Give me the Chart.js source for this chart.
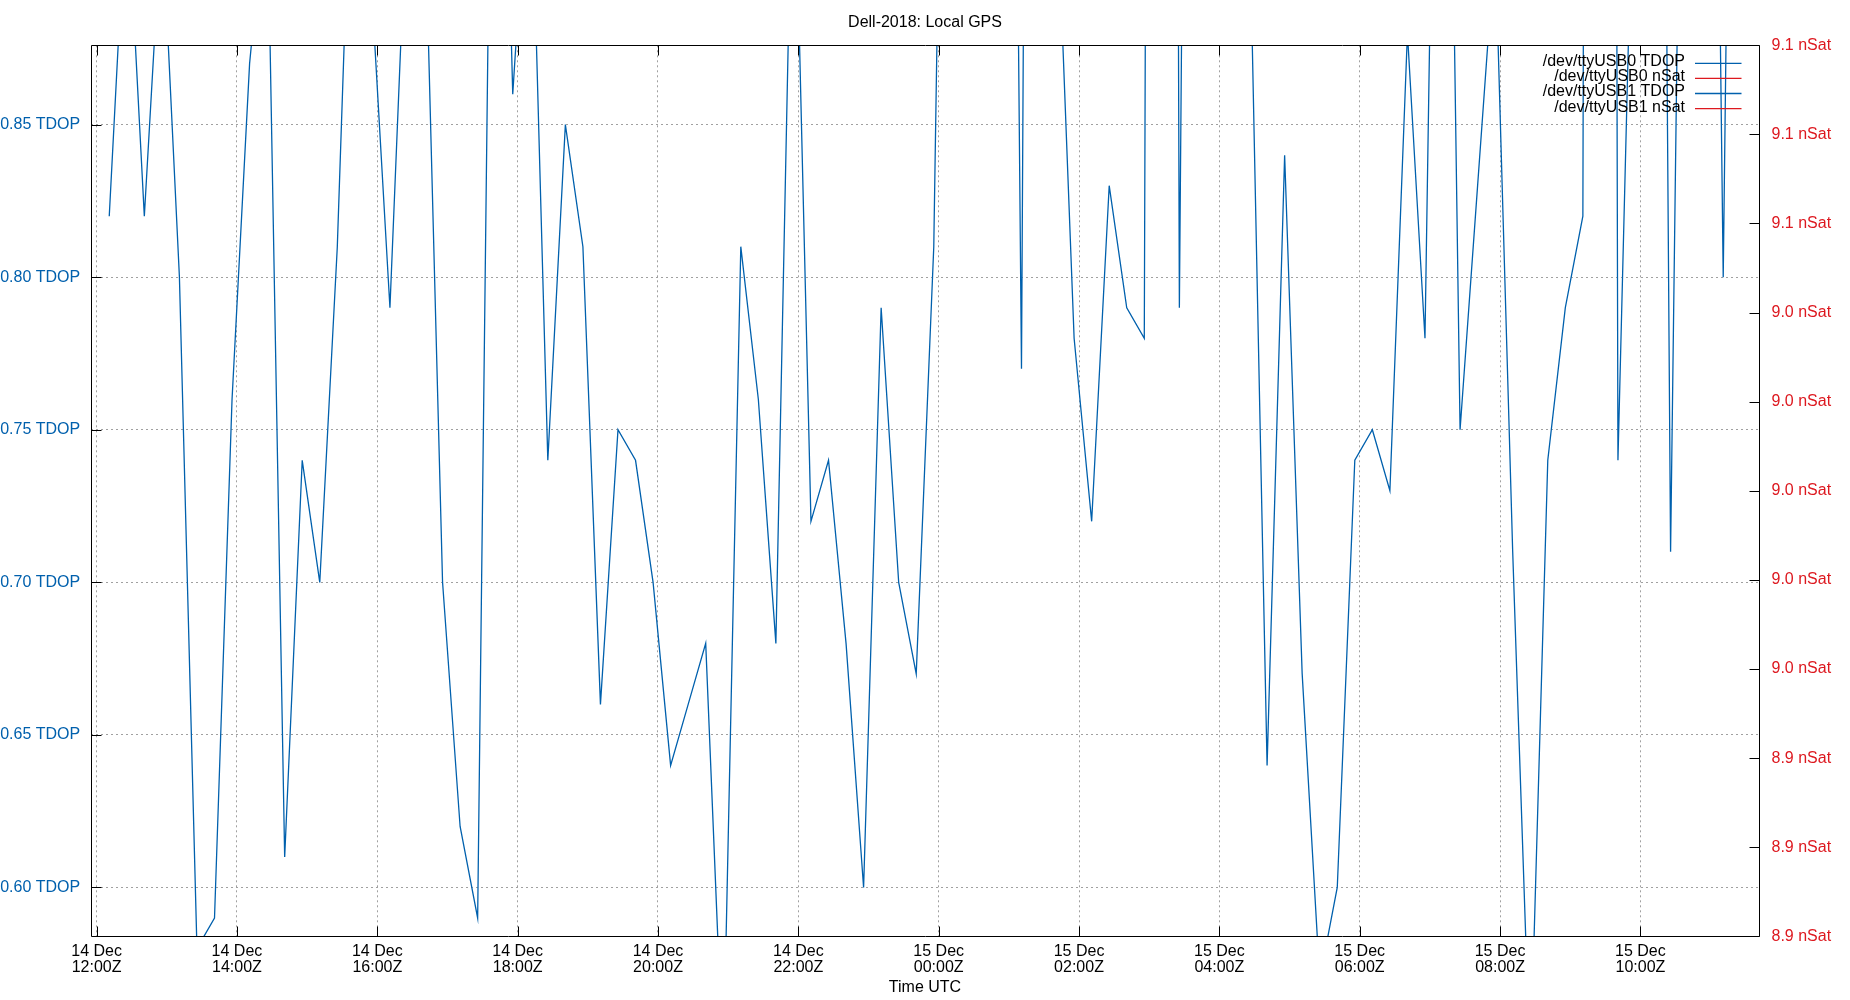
<!DOCTYPE html>
<html>
<head>
<meta charset="utf-8">
<script src="https://cdn.jsdelivr.net/npm/chart.js@4.4.1/dist/chart.umd.min.js"></script>
<style>
  html, body { margin: 0; padding: 0; background: #ffffff; }
  #wrap { width: 1850px; height: 1000px; position: relative; }
</style>
</head>
<body>
<div id="wrap"><canvas id="c"></canvas></div>
<script>
// ---------------- data ----------------
const chartTitle = 'Dell-2018: Local GPS';
const xAxisTitle = 'Time UTC';
const seriesLabels = ['/dev/ttyUSB0 TDOP', '/dev/ttyUSB0 nSat', '/dev/ttyUSB1 TDOP', '/dev/ttyUSB1 nSat'];

// sample times, hours since 14 Dec 00:00Z
const sampleTimes = [
  12.18, 12.43, 12.68, 12.93, 13.18, 13.43, 13.68, 13.93, 14.18, 14.43,
  14.68, 14.93, 15.18, 15.43, 15.68, 15.93, 16.18, 16.43, 16.68, 16.93,
  17.18, 17.43, 17.68, 17.93, 18.18, 18.43, 18.68, 18.93, 19.18, 19.43,
  19.68, 19.93, 20.18, 20.43, 20.68, 20.93, 21.18, 21.43, 21.68, 21.93,
  22.18, 22.43, 22.68, 22.93, 23.18, 23.43, 23.68, 23.93, 24.18, 24.43,
  24.68, 24.93, 25.18, 25.43, 25.68, 25.93, 26.18, 26.43, 26.68, 26.93,
  27.18, 27.43, 27.68, 27.93, 28.18, 28.43, 28.68, 28.93, 29.18, 29.43,
  29.68, 29.93, 30.18, 30.43, 30.68, 30.93, 31.18, 31.43, 31.68, 31.93,
  32.18, 32.43, 32.68, 32.93, 33.18, 33.43, 33.68, 33.93, 34.18, 34.43,
  34.68, 34.93, 35.18, 35.43
];

const usb0Tdop = [
  0.82, 0.93, 0.82, 0.92, 0.80, 0.58, 0.59, 0.76, 0.87, 0.93,
  0.61, 0.74, 0.70, 0.81, 0.98, 0.89, 0.79, 0.93, 0.92, 0.70,
  0.62, 0.59, 1.08, 0.86, 0.95, 0.74, 0.85, 0.81, 0.66, 0.75,
  0.74, 0.70, 0.64, 0.66, 0.68, 0.54, 0.81, 0.76, 0.68, 0.96,
  0.72, 0.74, 0.68, 0.60, 0.79, 0.70, 0.67, 0.81, 1.18, 1.25,
  1.30, 1.40, 0.77, 1.80, 0.93, 0.78, 0.72, 0.83, 0.79, 0.78,
  2.50, 0.79, 1.50, 1.30, 1.10, 0.92, 0.64, 0.84, 0.67, 0.57,
  0.60, 0.74, 0.75, 0.73, 0.88, 0.78, 1.15, 0.75, 0.83, 0.91,
  0.71, 0.54, 0.74, 0.79, 0.82, 3.00, 0.74, 0.97, 1.50, 0.71,
  1.16, 1.28, 0.80, 1.28
];
const usb0NSat = [];
const usb1Tdop = [];
const usb1NSat = [];

const xTickValues = [12, 14, 16, 18, 20, 22, 24, 26, 28, 30, 32, 34];
const xTickLabels = [
  ['14 Dec', '12:00Z'], ['14 Dec', '14:00Z'], ['14 Dec', '16:00Z'], ['14 Dec', '18:00Z'],
  ['14 Dec', '20:00Z'], ['14 Dec', '22:00Z'], ['15 Dec', '00:00Z'], ['15 Dec', '02:00Z'],
  ['15 Dec', '04:00Z'], ['15 Dec', '06:00Z'], ['15 Dec', '08:00Z'], ['15 Dec', '10:00Z']
];
const yTickValues = [0.60, 0.65, 0.70, 0.75, 0.80, 0.85];
const yTickLabels = ['0.60 TDOP', '0.65 TDOP', '0.70 TDOP', '0.75 TDOP', '0.80 TDOP', '0.85 TDOP'];
const y2TickValues = [8.90, 8.92, 8.94, 8.96, 8.98, 9.00, 9.02, 9.04, 9.06, 9.08, 9.10];
const y2TickLabels = ['8.9 nSat', '8.9 nSat', '8.9 nSat', '9.0 nSat', '9.0 nSat', '9.0 nSat',
                      '9.0 nSat', '9.0 nSat', '9.1 nSat', '9.1 nSat', '9.1 nSat'];

const xRange = [11.92, 35.69];
const yRange = [0.584, 0.876];
const y2Range = [8.9, 9.1];

// ---------------- style ----------------
const FONT = '"Liberation Sans", Arial, sans-serif';
const BLUE = '#0060ad';
const RED = '#dd181f';
const GRID = '#a0a0a0';

const toPoints = (xs, ys) => ys.map((v, i) => ({ x: xs[i], y: v }));

const frameTicks = {
  id: 'frameTicks',
  afterDatasetsDraw(chart) {
    const { ctx, chartArea: a, scales } = chart;
    const px = v => Math.round(v) + 0.5;
    const L = px(a.left), R = px(a.right), T = px(a.top), B = px(a.bottom);
    const len = 10;
    ctx.save();
    ctx.strokeStyle = '#000';
    ctx.lineWidth = 1;
    ctx.beginPath();
    ctx.rect(L, T, R - L, B - T);
    xTickValues.forEach(v => {
      const x = px(scales.x.getPixelForValue(v));
      ctx.moveTo(x, B); ctx.lineTo(x, B - len);
      ctx.moveTo(x, T); ctx.lineTo(x, T + len);
    });
    yTickValues.forEach(v => {
      const y = px(scales.y.getPixelForValue(v));
      ctx.moveTo(L, y); ctx.lineTo(L + len, y);
    });
    y2TickValues.forEach(v => {
      const y = px(scales.y2.getPixelForValue(v));
      ctx.moveTo(R, y); ctx.lineTo(R - len, y);
    });
    ctx.stroke();
    ctx.restore();
  }
};

const keyBox = {
  id: 'keyBox',
  afterDraw(chart) {
    const { ctx, chartArea: a } = chart;
    ctx.save();
    ctx.font = '16px ' + FONT;
    ctx.textAlign = 'right';
    ctx.textBaseline = 'middle';
    chart.data.datasets.forEach((ds, i) => {
      const y = a.top + 16.5 + i * 15.1;
      ctx.fillStyle = '#000';
      ctx.fillText(ds.label, a.right - 74, y);
      ctx.strokeStyle = ds.borderColor;
      ctx.lineWidth = 1.3;
      ctx.beginPath();
      ctx.moveTo(a.right - 64, y + 1.5);
      ctx.lineTo(a.right - 17.5, y + 1.5);
      ctx.stroke();
    });
    ctx.restore();
  }
};

new Chart(document.getElementById('c'), {
  type: 'line',
  data: {
    datasets: [
      { label: seriesLabels[0], data: toPoints(sampleTimes, usb0Tdop), yAxisID: 'y',
        borderColor: BLUE, borderWidth: 1.3, pointRadius: 0, tension: 0, fill: false },
      { label: seriesLabels[1], data: toPoints(sampleTimes, usb0NSat), yAxisID: 'y2',
        borderColor: RED, borderWidth: 1.3, pointRadius: 0, tension: 0, fill: false },
      { label: seriesLabels[2], data: toPoints(sampleTimes, usb1Tdop), yAxisID: 'y',
        borderColor: BLUE, borderWidth: 1.3, pointRadius: 0, tension: 0, fill: false },
      { label: seriesLabels[3], data: toPoints(sampleTimes, usb1NSat), yAxisID: 'y2',
        borderColor: RED, borderWidth: 1.3, pointRadius: 0, tension: 0, fill: false }
    ]
  },
  options: {
    responsive: true,
    maintainAspectRatio: false,
    animation: false,
    devicePixelRatio: 1,
    layout: { padding: 0 },
    plugins: {
      legend: { display: false },
      tooltip: { enabled: false },
      title: {
        display: true, text: chartTitle, color: '#000',
        font: { family: FONT, size: 16, weight: 'normal', lineHeight: 1.2 },
        padding: { top: 13.4, bottom: 12.7 }
      }
    },
    scales: {
      x: {
        type: 'linear', position: 'bottom', min: xRange[0], max: xRange[1],
        afterBuildTicks: s => { s.ticks = xTickValues.map(v => ({ value: v })); },
        afterFit: s => { s.height = 63.7; },
        ticks: {
          autoSkip: false, maxRotation: 0, minRotation: 0, padding: 6.8, color: '#000',
          font: { family: FONT, size: 16, lineHeight: 1.0 },
          callback: (v, i) => xTickLabels[i]
        },
        grid: { color: GRID, lineWidth: 1, drawTicks: false },
        border: { display: false, dash: [2, 3] },
        title: {
          display: true, text: xAxisTitle, color: '#000',
          font: { family: FONT, size: 16, lineHeight: 1.2 },
          padding: { top: 0, bottom: 3.2 }
        }
      },
      y: {
        type: 'linear', position: 'left', min: yRange[0], max: yRange[1],
        afterBuildTicks: s => { s.ticks = yTickValues.map(v => ({ value: v })); },
        afterFit: s => { s.width = 91; },
        ticks: {
          autoSkip: false, padding: 10.8, color: BLUE,
          font: { family: FONT, size: 16 },
          callback: (v, i) => yTickLabels[i]
        },
        grid: { color: GRID, lineWidth: 1, drawTicks: false },
        border: { display: false, dash: [2, 3] }
      },
      y2: {
        type: 'linear', position: 'right', min: y2Range[0], max: y2Range[1],
        afterBuildTicks: s => { s.ticks = y2TickValues.map(v => ({ value: v })); },
        afterFit: s => { s.width = 91; },
        ticks: {
          autoSkip: false, padding: 12.5, color: RED,
          font: { family: FONT, size: 16 },
          callback: (v, i) => y2TickLabels[i]
        },
        grid: { drawOnChartArea: false, drawTicks: false },
        border: { display: false }
      }
    }
  },
  plugins: [frameTicks, keyBox]
});
</script>
</body>
</html>
